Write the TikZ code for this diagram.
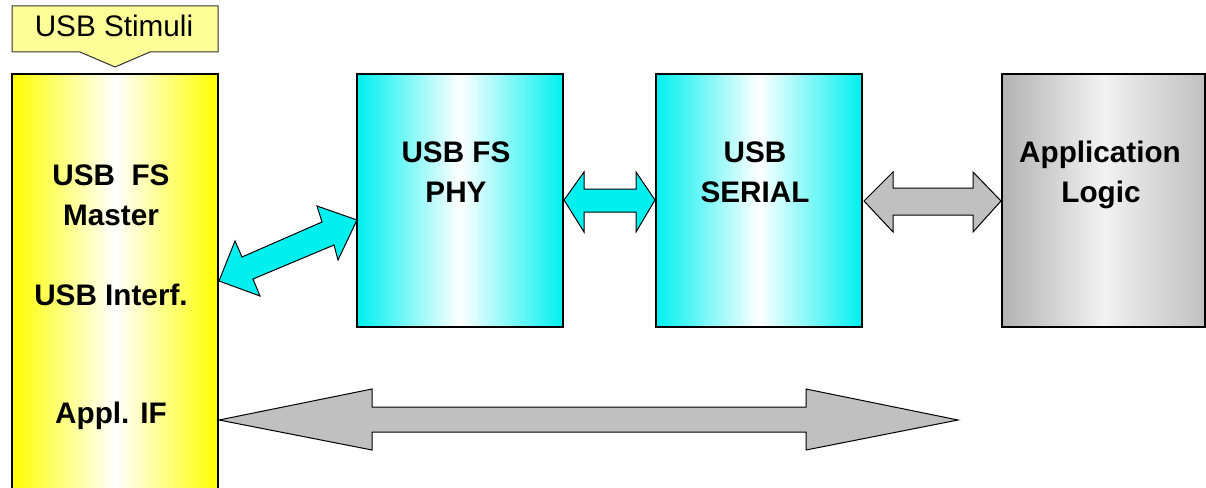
\documentclass[tikz,border=0pt]{standalone}
\usepackage{fontspec}
\setmainfont{Liberation Sans}
\definecolor{cy}{RGB}{0,240,240}
\definecolor{yl}{RGB}{255,255,0}
\definecolor{lyl}{RGB}{255,255,153}
\definecolor{gyA}{RGB}{178,178,178}
\definecolor{gyB}{RGB}{242,242,242}
\definecolor{gyC}{RGB}{192,192,192}
\definecolor{garrow}{RGB}{192,192,192}
\pgfdeclarehorizontalshading{cyanshade}{100bp}{color(0bp)=(cy); color(25bp)=(cy); color(50bp)=(white); color(75bp)=(cy); color(100bp)=(cy)}
\pgfdeclarehorizontalshading{yelshade}{100bp}{color(0bp)=(yl); color(25bp)=(yl); color(50bp)=(white); color(75bp)=(yl); color(100bp)=(yl)}
\pgfdeclarehorizontalshading{greyshade}{100bp}{color(0bp)=(gyA); color(25bp)=(gyA); color(50bp)=(gyB); color(75bp)=(gyC); color(100bp)=(gyC)}
\begin{document}
\begin{tikzpicture}[x=1pt,y=-1pt,
  box/.style={draw=black, line width=2pt, inner sep=0pt, minimum width=206pt, minimum height=253pt},
  txt/.style={font=\fontsize{29.7}{33}\selectfont\bfseries, anchor=base, inner sep=0pt},
  ctxt/.style={font=\fontsize{29.7}{33}\selectfont, anchor=base, inner sep=0pt},
  cyarrow/.style={fill=cy, draw=black, line width=1pt, line join=miter},
  grarrow/.style={fill=garrow, draw=black, line width=1pt, line join=miter}]
\useasboundingbox (0,0) rectangle (1206,487);
% boxes
\node[box, shading=yelshade, minimum height=426pt] (yel) at (115,287) {};
\node[box, shading=cyanshade] (phy) at (460,200.5) {};
\node[box, shading=cyanshade] (ser) at (759,200.5) {};
\node[box, shading=greyshade, minimum width=203pt] (app) at (1103.5,200.5) {};
% callout
\path[fill=lyl, draw=black!80, line width=1pt]
  (12,6) -- (218,6) -- (218,52) -- (150,52) -- (115,67) -- (80,52) -- (12,52) -- cycle;
\node[ctxt] (stim) at (114,37) {USB Stimuli};
% texts
\node[txt] (t1) at (111,185) {USB\ \ FS};
\node[txt] (t2) at (111,225) {Master};
\node[txt] (t3) at (111,305) {USB Interf.};
\node[txt] (t4) at (111,423) {Appl. IF};
\node[txt] (t5) at (456,162) {USB FS};
\node[txt] (t6) at (456,202) {PHY};
\node[txt] (t7) at (755,162) {USB};
\node[txt] (t8) at (755,202) {SERIAL};
\node[txt] (t9) at (1100,162) {Application};
\node[txt] (t10) at (1101,202) {Logic};
% arrows
\draw[cyarrow] (219,281) -- (235,241) -- (242,257) -- (322,222) -- (317,206) -- (357,220)
  -- (338,260) -- (334,245) -- (253,279) -- (260,296) -- cycle;
\draw[cyarrow] (564,200) -- (584,172) -- (584,189) -- (636,189) -- (636,172) -- (655,200)
  -- (636,232) -- (636,212) -- (584,212) -- (584,232) -- cycle;
\draw[grarrow] (864,201) -- (893,172) -- (893,188) -- (973,188) -- (973,172) -- (1001,201)
  -- (973,232) -- (973,215) -- (893,215) -- (893,232) -- cycle;
\draw[grarrow] (219,420) -- (372,389) -- (372,407) -- (806,407) -- (806,389) -- (958,420)
  -- (806,450) -- (806,432) -- (372,432) -- (372,450) -- cycle;
\end{tikzpicture}
\end{document}
